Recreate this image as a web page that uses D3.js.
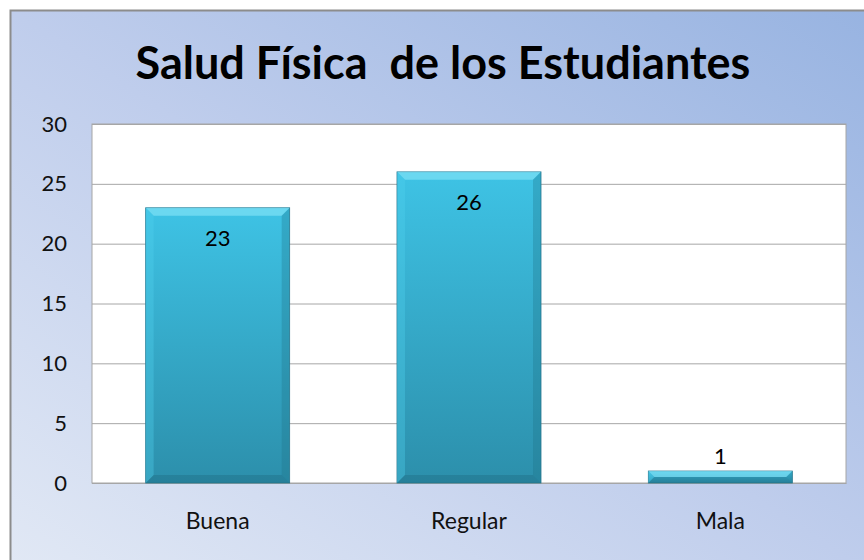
<!DOCTYPE html>
<html><head><meta charset="utf-8">
<script src="https://cdn.jsdelivr.net/npm/d3@7"></script>
<style>body{margin:0;background:#fff}svg{display:block}</style>
</head><body>
<svg id="c" width="864" height="560"></svg>
<script>
const title = "Salud Física  de los Estudiantes";
const categories = ["Buena", "Regular", "Mala"];
const values = [23, 26, 1];
const yTicks = [0, 5, 10, 15, 20, 25, 30];

const FONT = "Lato, 'Open Sans', sans-serif";
const svg = d3.select("#c");
const defs = svg.append("defs");
const bg = defs.append("linearGradient").attr("id","bg").attr("x1","0").attr("y1","1").attr("x2","1").attr("y2","0");
bg.append("stop").attr("offset","0").attr("stop-color","#e2e9f5");
bg.append("stop").attr("offset","0.5").attr("stop-color","#bfcdec");
bg.append("stop").attr("offset","1").attr("stop-color","#97b3e1");
const bar = defs.append("linearGradient").attr("id","bar").attr("x1","0").attr("y1","0").attr("x2","0").attr("y2","1");
bar.append("stop").attr("offset","0").attr("stop-color","#3ec3e5");
bar.append("stop").attr("offset","1").attr("stop-color","#2c8fab");

svg.append("rect").attr("x",10.5).attr("y",10.5).attr("width",870).attr("height",570)
  .attr("fill","url(#bg)").attr("stroke","#8c8c8c").attr("stroke-width",2);

svg.append("text").attr("x",443).attr("y",79).attr("text-anchor","middle")
  .style("white-space","pre")
  .attr("font-family",FONT).attr("font-weight","bold")
  .attr("font-size",45).attr("fill","#000").text(title);

const m = {l:92, r:846, t:124, b:483};
const x = d3.scaleBand().domain(categories).range([m.l, m.r]).paddingInner(0.427).paddingOuter(0.2135);
const y = d3.scaleLinear().domain([0,30]).range([m.b, m.t]);

svg.append("rect").attr("x",m.l).attr("y",m.t).attr("width",m.r-m.l).attr("height",m.b-m.t)
  .attr("fill","#fff").attr("stroke","#a6a6a6");

const yAxis = svg.append("g").attr("transform",`translate(${m.l},0)`)
  .call(d3.axisLeft(y).tickValues(yTicks).tickSize(-(m.r-m.l)).tickPadding(25));
yAxis.select(".domain").remove();
yAxis.selectAll("line").attr("stroke","#a6a6a6");
yAxis.selectAll("text").attr("font-family",FONT).attr("font-size",22).attr("fill","#111");

const xAxis = svg.append("g").attr("transform",`translate(0,${m.b})`)
  .call(d3.axisBottom(x).tickSize(0).tickPadding(30));
xAxis.select(".domain").attr("stroke","#a6a6a6");
xAxis.selectAll("text").attr("font-family",FONT).attr("font-size",23).attr("fill","#111");

const g = svg.append("g");
categories.forEach((c,i)=>{
  const x0 = x(c), w = x.bandwidth(), y0 = y(values[i]), h = y(0)-y0;
  const b = Math.min(8, h/2);
  g.append("rect").attr("x",x0).attr("y",y0).attr("width",w).attr("height",h).attr("fill","url(#bar)").attr("stroke","#2a7890").attr("stroke-width",0.8);
  g.append("path").attr("d",`M${x0},${y0}L${x0+w},${y0}L${x0+w-b},${y0+b}L${x0+b},${y0+b}Z`).attr("fill","#8ae6f8").attr("opacity",0.6);
  g.append("path").attr("d",`M${x0},${y0}L${x0+b},${y0+b}L${x0+b},${y0+h-b}L${x0},${y0+h}Z`).attr("fill","#4fd0ee").attr("opacity",0.35);
  g.append("path").attr("d",`M${x0+w},${y0}L${x0+w-b},${y0+b}L${x0+w-b},${y0+h-b}L${x0+w},${y0+h}Z`).attr("fill","#1d6f86").attr("opacity",0.3);
  g.append("path").attr("d",`M${x0},${y0+h}L${x0+b},${y0+h-b}L${x0+w-b},${y0+h-b}L${x0+w},${y0+h}Z`).attr("fill","#1b5f73").attr("opacity",0.3);
  const inside = h > 40;
  g.append("text").attr("x",x0+w/2).attr("y", inside ? y0+38 : y0-7).attr("text-anchor","middle")
    .attr("font-family",FONT).attr("font-size",22).attr("fill","#000").text(values[i]);
});
</script>
</body></html>
